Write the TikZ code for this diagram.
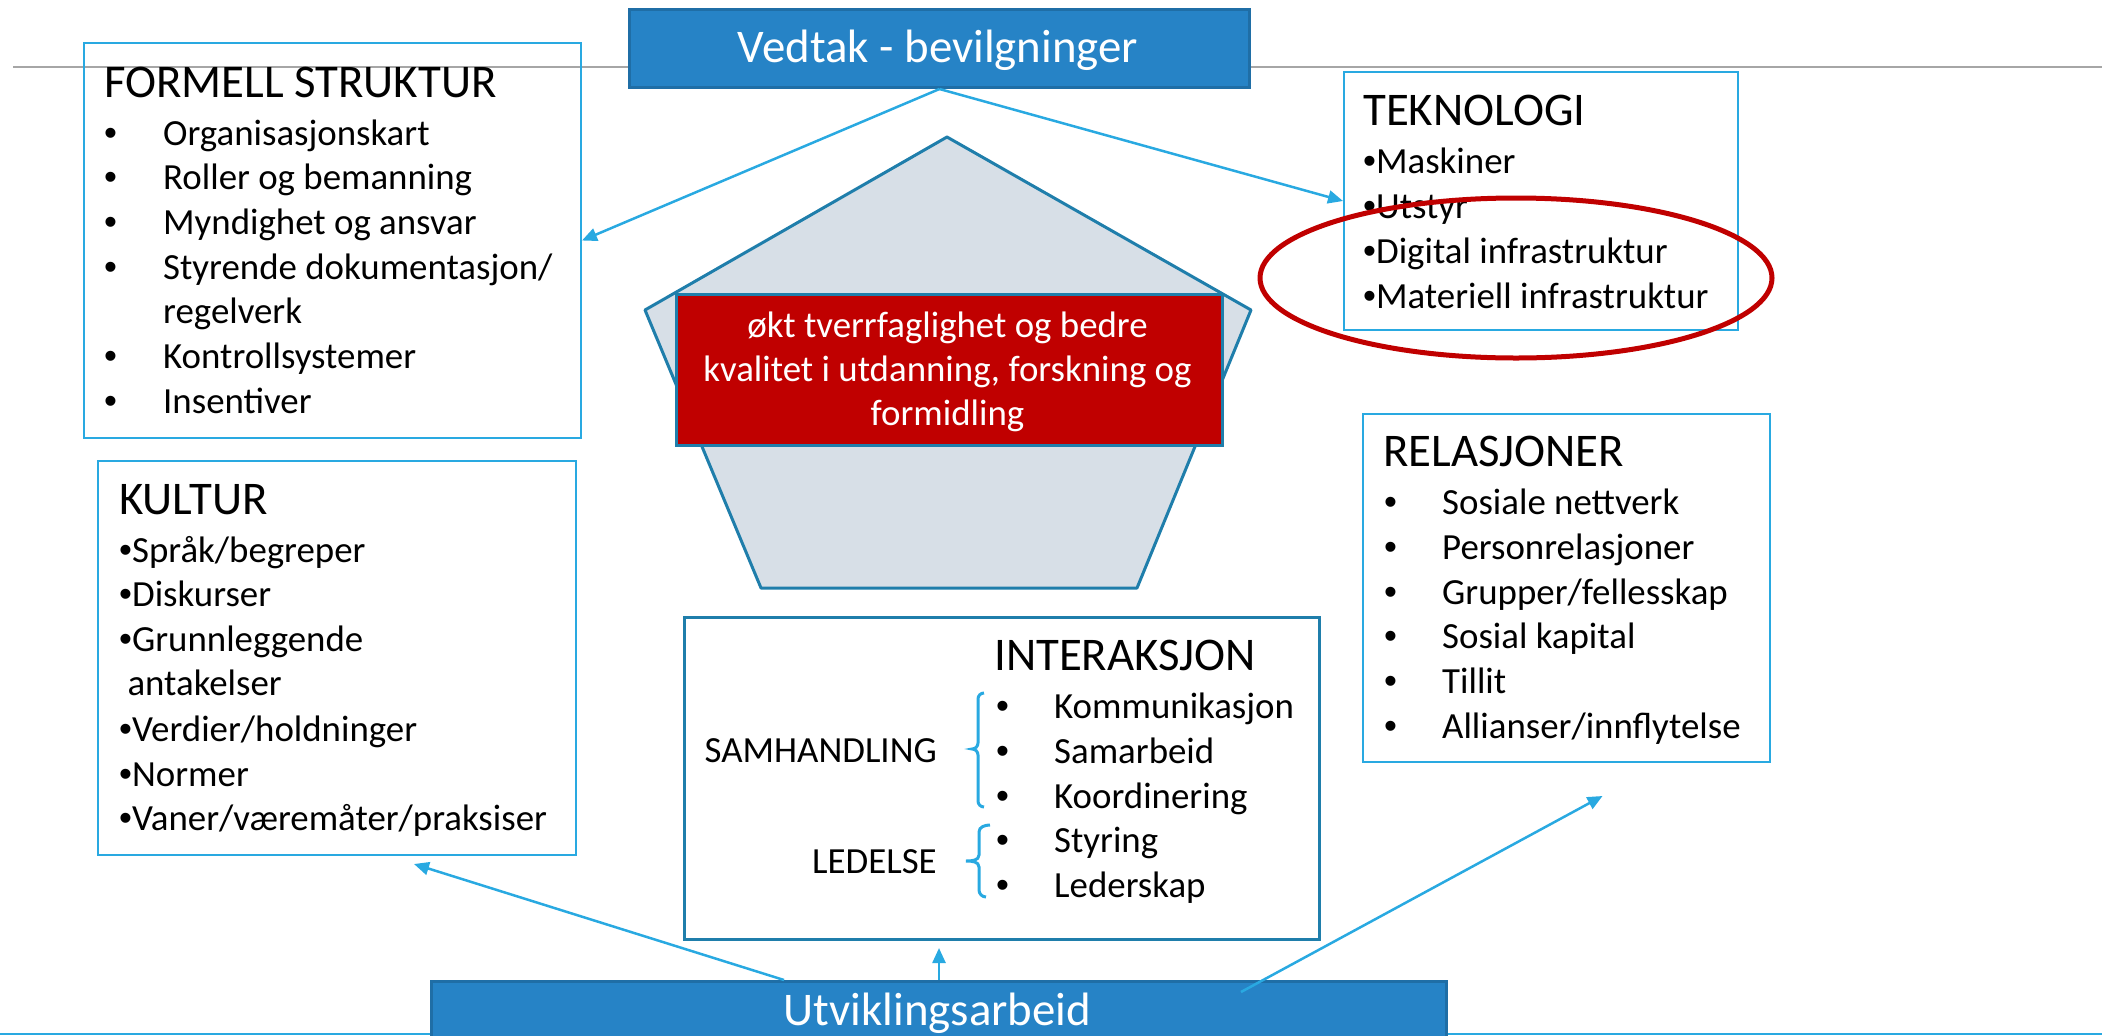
\documentclass[tikz,border=0pt]{standalone}
\usepackage{fontspec}
\setmainfont{Carlito}
\newfontfamily\bulfont{Liberation Sans}
\newcommand{\bul}{{\bulfont •}}
\usetikzlibrary{arrows.meta,calc}
\definecolor{sky}{HTML}{29A9E1}
\definecolor{vblue}{HTML}{2683C6}
\definecolor{vbord}{HTML}{1F6EA6}
\definecolor{steel}{HTML}{1F7EAB}
\definecolor{pent}{HTML}{D7DFE7}
\definecolor{dred}{HTML}{C00000}
\definecolor{gline}{HTML}{A6A6A6}
\tikzset{
  box/.style={draw=sky, line width=2bp, anchor=north west, inner sep=0},
  ttl/.style={anchor=base west, inner sep=0, font=\fontsize{47}{56}\selectfont},
  itm/.style={anchor=base west, inner sep=0, font=\fontsize{37}{44}\selectfont},
  wtxt/.style={anchor=base, inner sep=0, text=white},
  arr/.style={draw=sky, line width=2.5bp, -{Triangle[length=15bp,width=13bp]}},
  brace/.style={draw=sky, line width=3bp}
}
\begin{document}
\begin{tikzpicture}[x=1bp,y=-1bp]
\useasboundingbox (0,0) rectangle (2102,1036);
% background lines
\draw[gline, line width=2bp] (13,67) -- (2102,67);
\draw[sky, line width=2bp] (0,1034) -- (2102,1034);

% Vedtak box
\node[anchor=north west, fill=vblue, draw=vbord, line width=3bp, minimum width=620bp, minimum height=78bp, inner sep=0] (vedtak) at (628,8) {};
\node[wtxt, font=\fontsize{47}{56}\selectfont] (vedtakT) at (938,62) {Vedtak - bevilgninger};

% FORMELL STRUKTUR
\node[box, minimum width=497bp, minimum height=395bp] (formell) at (83,42) {};
\node[ttl] (formellT) at (104,97) {FORMELL STRUKTUR};
\foreach \y/\t [count=\i] in {145/{Organisasjonskart}, 189.7/{Roller og bemanning}, 234.4/{Myndighet og ansvar}, 279/{Styrende dokumentasjon/}, 368.5/{Kontrollsystemer}, 413/{Insentiver}}{
  \node[itm] (formellB\i) at (104,\y) {\bul};
  \node[itm] (formellI\i) at (163,\y) {\t};
}
\node[itm] (formellI7) at (163,323.8) {regelverk};

% TEKNOLOGI
\node[box, minimum width=394bp, minimum height=258bp] (tekno) at (1343,71) {};
\node[ttl] (teknoT) at (1363,125) {TEKNOLOGI};
\foreach \y/\t [count=\i] in {173/{Maskiner}, 218/{Utstyr}, 263/{Digital infrastruktur}, 308/{Materiell infrastruktur}}{
  \node[itm] (teknoI\i) at (1363,\y) {\bul\t};
}

% pentagon and goal box
\draw[fill=pent, draw=steel, line width=3bp, line join=round] (947,137) -- (1251,310) -- (1137,588) -- (761,588) -- (645,310) -- cycle;
\node[anchor=north west, fill=dred, draw=steel, line width=3bp, minimum width=546bp, minimum height=151bp, inner sep=0] (goal) at (675,293) {};
\node[wtxt, font=\fontsize{37}{44}\selectfont] (goalL1) at (947.5,337) {økt tverrfaglighet og bedre};
\node[wtxt, font=\fontsize{37}{44}\selectfont] (goalL2) at (947.5,381) {kvalitet i utdanning, forskning og};
\node[wtxt, font=\fontsize{37}{44}\selectfont] (goalL3) at (947.5,425) {formidling};

% KULTUR
\node[box, minimum width=478bp, minimum height=394bp] (kultur) at (97,460) {};
\node[ttl] (kulturT) at (119,514) {KULTUR};
\foreach \y/\t [count=\i] in {562/{\bul Språk/begreper}, 606/{\bul Diskurser}, 651/{\bul Grunnleggende}, 695/{\ antakelser}, 741/{\bul Verdier/holdninger}, 786/{\bul Normer}, 830/{\bul Vaner/væremåter/praksiser}}{
  \node[itm] (kulturI\i) at (119,\y) {\t};
}

% RELASJONER
\node[box, minimum width=407bp, minimum height=348bp] (rel) at (1362,413) {};
\node[ttl] (relT) at (1383,466) {RELASJONER};
\foreach \y/\t [count=\i] in {514/{Sosiale nettverk}, 559/{Personrelasjoner}, 604/{Grupper/fellesskap}, 648/{Sosial kapital}, 693/{Tillit}, 738/{Allianser/innflytelse}}{
  \node[itm] (relB\i) at (1384,\y) {\bul};
  \node[itm] (relI\i) at (1442,\y) {\t};
}

% INTERAKSJON
\node[anchor=north west, draw=steel, line width=3bp, minimum width=635bp, minimum height=322bp, inner sep=0] (inter) at (683,616) {};
\node[ttl] (interT) at (994,670) {INTERAKSJON};
\foreach \y/\t [count=\i] in {718/{Kommunikasjon}, 763/{Samarbeid}, 808/{Koordinering}, 852/{Styring}, 897/{Lederskap}}{
  \node[itm] (interB\i) at (996,\y) {\bul};
  \node[itm] (interI\i) at (1054,\y) {\t};
}
\node[itm, anchor=base east] (samh) at (937,762) {SAMHANDLING};
\node[itm, anchor=base east] (ledelse) at (937,873) {LEDELSE};
\draw[brace] (984,693) to[out=180,in=90] (978,699) -- (978,743) to[out=-90,in=0] (972,749) to[out=0,in=90] (978,755) -- (978,801) to[out=-90,in=180] (984,807);
\draw[brace] (990,825) to[out=180,in=90] (979,832) -- (979,855) to[out=-90,in=0] (966,861) to[out=0,in=90] (979,867) -- (979,890) to[out=-90,in=180] (986,897);

% Utviklingsarbeid
\node[anchor=north west, fill=vblue, draw=vbord, line width=3bp, minimum width=1015bp, minimum height=70bp, inner sep=0] (utv) at (430,980) {};
\node[wtxt, font=\fontsize{47}{56}\selectfont] (utvT) at (937.5,1025) {Utviklingsarbeid};

% arrows
\draw[arr] (vedtak.south) -- (formell.east);
\draw[arr] (vedtak.south) -- (tekno.west);
\draw[arr] ($(utv.north)+(-155,0)$) -- ($(kultur.south)+(77,8)$);
\draw[arr] (utv.north) -- ($(utv.north |- inter.south)+(0,7)$);
\draw[arr] ($(utv.north)+(302,12)$) -- ($(rel.south)+(36,33)$);

% red ellipse
\draw[dred, line width=5bp] (1516,278) ellipse [x radius=256, y radius=80];
\end{tikzpicture}
\end{document}
